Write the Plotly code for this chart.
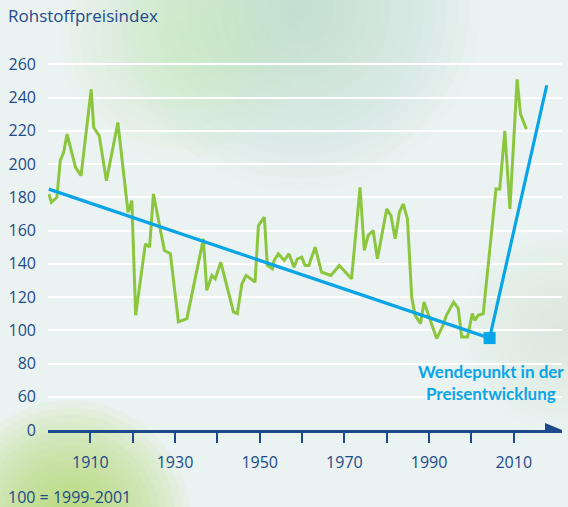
import plotly.graph_objects as go

# ---- data ----
years = [1900.2, 1900.8, 1902.1, 1902.9, 1903.7, 1904.5, 1906.5, 1907.8,
         1910.2, 1910.8, 1912.1, 1913.8, 1916.5, 1918.9, 1919.8, 1920.7,
         1923.0, 1924.0, 1924.9, 1927.5, 1928.9, 1930.8, 1932.8, 1936.7,
         1937.5, 1938.7, 1939.5, 1940.8, 1943.8, 1944.7, 1945.8, 1946.8,
         1948.9, 1949.7, 1951.1, 1951.8, 1953.0, 1953.4, 1954.4, 1955.8,
         1956.9, 1958.1, 1958.9, 1959.9, 1960.7, 1961.6, 1963.1, 1964.6,
         1965.7, 1966.8, 1968.8, 1971.7, 1973.7, 1974.7, 1975.6, 1976.8,
         1977.8, 1980.0, 1981.0, 1982.0, 1983.0, 1983.9, 1984.9, 1985.9,
         1986.7, 1988.0, 1988.8, 1990.0, 1991.8, 1993.3, 1994.1, 1995.8,
         1996.9, 1997.7, 1999.1, 2000.2, 2000.8, 2001.6, 2002.8, 2005.8,
         2006.7, 2007.9, 2009.1, 2010.8, 2011.6, 2013.0]
index_values = [182, 177, 180, 202, 207, 218, 198, 193,
                245, 222, 217, 190, 225, 171, 178, 109,
                152, 150, 182, 148, 146, 105, 107, 155,
                124, 133, 131, 141, 111, 110, 128, 133,
                129, 163, 168, 139, 137, 142, 146, 142,
                146, 138, 143, 144, 139, 139, 150, 135,
                134, 133, 139, 131, 186, 148, 157, 160,
                143, 173, 169, 155, 171, 176, 167, 120,
                109, 104, 117, 108, 95, 103, 109, 117,
                113, 96, 96, 110, 106, 109, 110, 185,
                185, 220, 173, 251, 230, 221]

trend_years = [1900.2, 2004.3, 2017.8]
trend_values = [184.9, 95.3, 247.4]
turn_year = [2004.3]
turn_value = [95.3]

x_tickvals = [1910, 1920, 1930, 1940, 1950, 1960, 1970, 1980, 1990, 2000, 2010]
x_ticktext = ["1910", "", "1930", "", "1950", "", "1970", "", "1990", "", "2010"]
y_tickvals = [40, 60, 80, 100, 120, 140, 160, 180, 200, 220, 240, 260]
y_ticktext = ["0", "60", "80", "100", "120", "140", "160", "180", "200", "220", "240", "260"]

NAVY = "#1d4a8a"
GREEN = "#8cc63e"
BLUE = "#0aa5e6"
FONT = "Open Sans"

W, H = 568, 507
L, R, T, B = 47.7, 6.3, 56.4, 77.1
PW, PH = W - L - R, H - T - B

fig = go.Figure()

fig.add_trace(go.Scatter(x=years, y=index_values, mode="lines",
                         line=dict(color=GREEN, width=3), hoverinfo="skip"))
fig.add_trace(go.Scatter(x=trend_years, y=trend_values, mode="lines",
                         line=dict(color=BLUE, width=3.2), hoverinfo="skip"))
fig.add_trace(go.Scatter(x=turn_year, y=turn_value, mode="markers",
                         marker=dict(symbol="square", size=12, color=BLUE),
                         hoverinfo="skip"))

# soft background blobs (decoration)
def blob(cx, cy, r, color, steps, op):
    for i in range(steps):
        rr = r * (1 - i / steps)
        fig.add_shape(type="circle", xref="paper", yref="paper",
                      x0=(cx - rr - L) / PW, x1=(cx + rr - L) / PW,
                      y0=(H - B - (cy + rr)) / PH, y1=(H - B - (cy - rr)) / PH,
                      line=dict(width=0), fillcolor=color, opacity=op,
                      layer="below")

blob(300, 10, 180, "#b9dcc0", 16, 0.05)
blob(180, 40, 120, "#c9e3b0", 12, 0.05)
blob(70, 520, 120, "#a8d25c", 16, 0.07)
blob(560, 330, 100, "#d6ebd8", 12, 0.04)

# x-axis arrow head
fig.add_shape(type="path", xref="x", yref="y", xsizemode="pixel", ysizemode="pixel",
              xanchor=2021.4, yanchor=40, path="M -17 -7 L 0 0 L -17 7 Z",
              fillcolor=NAVY, line=dict(width=0), layer="above")

fig.add_annotation(text="Rohstoffpreisindex", xref="paper", yref="paper",
                   x=(6 - L) / PW, y=(H - B - 16) / PH, xanchor="left", yanchor="middle",
                   showarrow=False, font=dict(family=FONT, size=17, color=NAVY))
fig.add_annotation(text="100 = 1999-2001", xref="paper", yref="paper",
                   x=(6 - L) / PW, y=(H - B - 497) / PH, xanchor="left", yanchor="middle",
                   showarrow=False, font=dict(family=FONT, size=16, color=NAVY))
fig.add_annotation(text="<b>Wendepunkt in der<br>Preisentwicklung</b>", xref="paper", yref="paper",
                   x=(491 - L) / PW, y=(H - B - 382) / PH, xanchor="center", yanchor="middle",
                   showarrow=False, align="center",
                   font=dict(family="Lato", size=17, color=BLUE))

fig.update_layout(
    width=W, height=H,
    margin=dict(l=L, r=R, t=T, b=B, pad=0),
    paper_bgcolor="#eaf3f2", plot_bgcolor="rgba(0,0,0,0)",
    showlegend=False,
    xaxis=dict(range=[1900, 2021.4], tickvals=x_tickvals, ticktext=x_ticktext,
               showgrid=False, zeroline=False, showline=True, linecolor=NAVY, linewidth=2.5,
               ticks="outside", ticklen=10, tickwidth=2, tickcolor=NAVY,
               ticklabelstandoff=6,
               tickfont=dict(family=FONT, size=16, color=NAVY)),
    yaxis=dict(range=[40, 265], tickvals=y_tickvals, ticktext=y_ticktext,
               showgrid=True, gridcolor="white", gridwidth=1.5, zeroline=False,
               showline=False, ticks="", ticklabelstandoff=11,
               tickfont=dict(family=FONT, size=16, color=NAVY)),
)

fig.write_html("out.html", config={"displayModeBar": False},
               post_script="document.body.style.margin='0';document.body.style.overflow='hidden';")
